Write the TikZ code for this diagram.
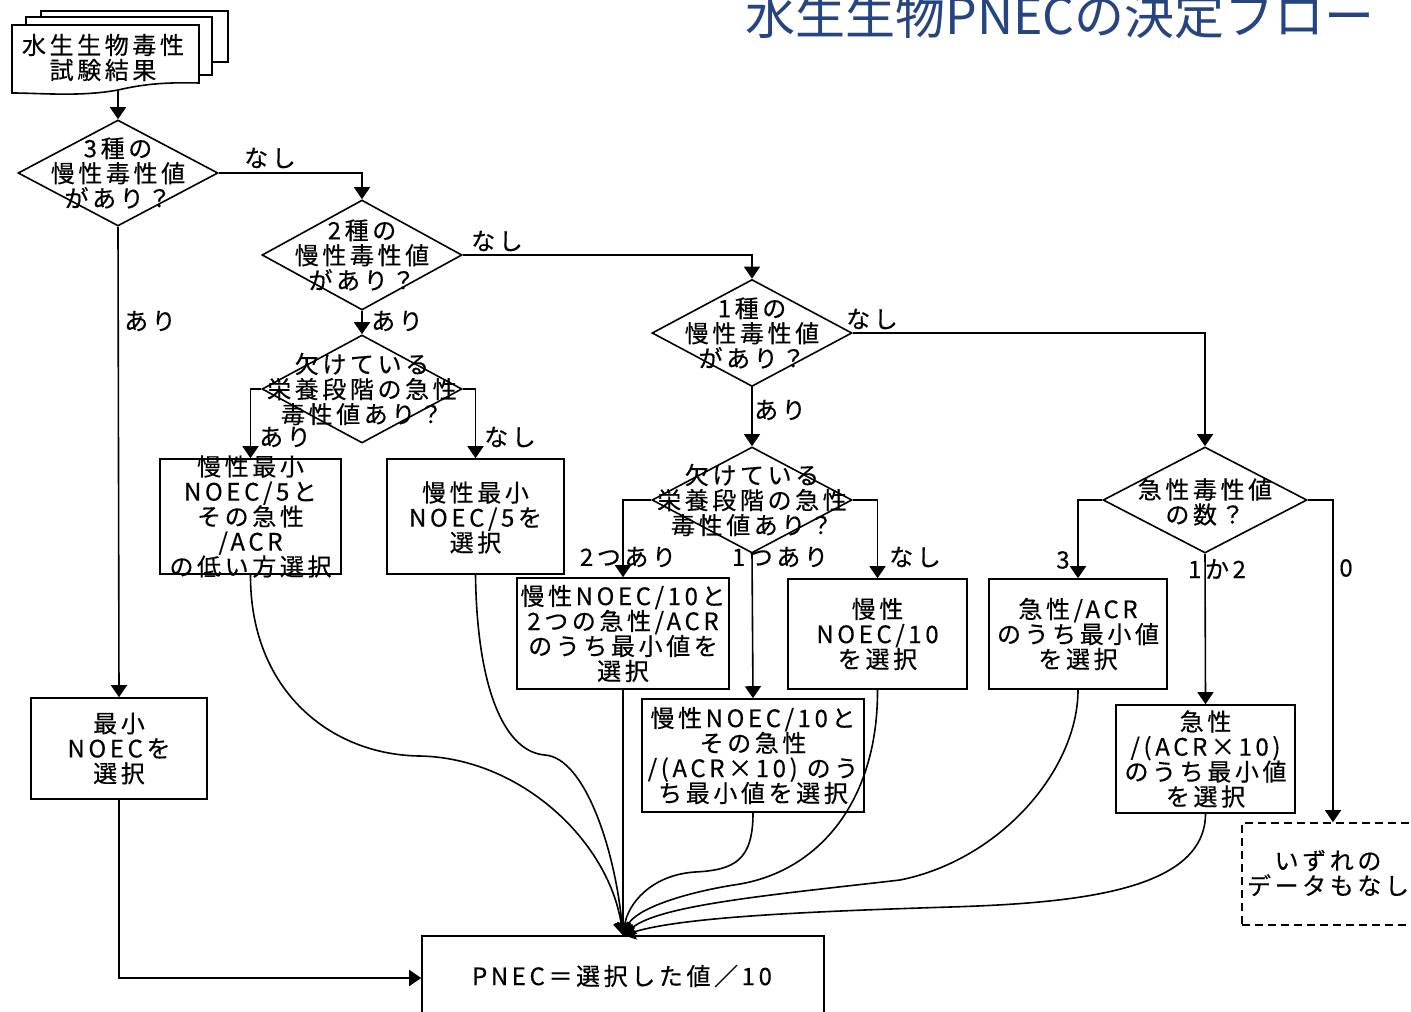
\documentclass[tikz,border=0pt]{standalone}
\usepackage{fontspec}
\setmainfont{Noto Sans CJK JP}[LetterSpace=15,FakeBold=0.4]
\newfontfamily\titlefont{Noto Sans CJK JP}
\usetikzlibrary{shapes.geometric,arrows.meta}
\definecolor{ttl}{RGB}{38,68,128}
\begin{document}
\begin{tikzpicture}[x=0.5pt,y=-0.5pt,line width=0.8pt,
  >={Triangle[length=6pt,width=8pt]},
  box/.style={draw,fill=white,inner sep=0pt,rectangle},
  dia/.style={diamond,draw,fill=white,inner sep=0pt},
  txt/.style={align=center,font=\fontsize{12}{12.5}\selectfont,inner sep=0pt},
  lbl/.style={font=\fontsize{12}{12.5}\selectfont,inner sep=0pt}]
\useasboundingbox[fill=white] (0,0) rectangle (1411,1011);

% title
\node[font=\titlefont\fontsize{25}{25}\selectfont,text=ttl,inner sep=0pt] (title) at (1060,16) {水生生物PNECの決定フロー};

% document stack
\filldraw[fill=white] (41,62) -- (41,11) -- (228,11) -- (228,62) -- cycle;
\filldraw[fill=white] (26,75) -- (26,17) -- (212,17) -- (212,75) -- cycle;
\filldraw[fill=white] (12,93) -- (12,25) -- (199,25) -- (199,83) .. controls (160,82) and (140,85) .. (118,90) .. controls (80,97) and (40,93) .. (12,93) -- cycle;
\node[txt] (doct) at (103,57.5) {水生生物毒性\\試験結果};
\coordinate (docb) at (118,90);

% diamonds
\node[dia,minimum width=100pt,minimum height=53pt] (d1) at (118,173) {};
\node[txt] (d1t) at (d1) {3種の\\慢性毒性値\\があり？};
\node[dia,minimum width=100pt,minimum height=55pt] (d2) at (362,255) {};
\node[txt] (d2t) at (d2) {2種の\\慢性毒性値\\があり？};
\node[dia,minimum width=100pt,minimum height=54pt] (d4) at (362,389) {};
\node[txt] (d4t) at (d4) {欠けている\\栄養段階の急性\\毒性値あり？};
\node[dia,minimum width=100pt,minimum height=53.5pt] (d3) at (752,333) {};
\node[txt] (d3t) at (d3) {1種の\\慢性毒性値\\があり？};
\node[dia,minimum width=100pt,minimum height=53pt] (d5) at (752,500) {};
\node[txt] (d5t) at (d5) {欠けている\\栄養段階の急性\\毒性値あり？};
\node[dia,minimum width=102pt,minimum height=53pt] (d6) at (1205,500) {};
\node[txt] (d6t) at (1205,502) {急性毒性値\\の数？};

% boxes
\node[box,minimum width=88pt,minimum height=50.5pt] (bmin) at (119,748.5) {};
\node[txt] (bmint) at (bmin) {最小\\NOECを\\選択};
\node[box,minimum width=90.5pt,minimum height=57.5pt] (bA) at (250.5,516.5) {};
\node[txt] (bAt) at (bA) {慢性最小\\NOEC/5と\\その急性\\/ACR\\の低い方選択};
\node[box,minimum width=88.5pt,minimum height=57.5pt] (bB) at (475.5,516.5) {};
\node[txt] (bBt) at (475.5,517.5) {慢性最小\\NOEC/5を\\選択};
\node[box,minimum width=106pt,minimum height=55.5pt] (bC) at (623,633.5) {};
\node[txt] (bCt) at (bC) {慢性NOEC/10と\\2つの急性/ACR\\のうち最小値を\\選択};
\node[box,minimum width=89.5pt,minimum height=55pt] (bE) at (877.5,634) {};
\node[txt] (bEt) at (bE) {慢性\\NOEC/10\\を選択};
\node[box,minimum width=111pt,minimum height=56.5pt] (bD) at (753,755.5) {};
\node[txt] (bDt) at (bD) {慢性NOEC/10と\\その急性\\/(ACR×10) のう\\ち最小値を選択};
\node[box,minimum width=89pt,minimum height=55pt] (bF) at (1078,634) {};
\node[txt] (bFt) at (bF) {急性/ACR\\のうち最小値\\を選択};
\node[box,minimum width=89.5pt,minimum height=54pt] (bG) at (1205.5,759) {};
\node[txt] (bGt) at (bG) {急性\\/(ACR×10)\\のうち最小値\\を選択};
\node[box,dash pattern=on 4pt off 2.5pt,minimum width=91pt,minimum height=51pt] (bH) at (1333,874) {};
\node[txt] (bHt) at (1328,873) {いずれの\\データもなし};
\node[box,minimum width=201pt,minimum height=42pt] (pnec) at (623,978) {};
\node[txt] (pnect) at (622,976) {PNEC＝選択した値／10};

% connectors
\draw[->] (docb) -- (d1.north);
\draw[->] (d1.east) -| (d2.north);
\draw[->] (d1.south) -- (bmin.north);
\draw[->] (bmin.south) |- (pnec.west);
\draw[->] (d2.east) -| (d3.north);
\draw[->] (d2.south) -- (d4.north);
\draw[->] (d4.west) -| (bA.north);
\draw[->] (d4.east) -| (bB.north);
\draw[->] (d3.east) -| (d6.north);
\draw[->] (d3.south) -- (d5.north);
\draw[->] (d5.west) -| (bC.north);
\draw[->] (d5.south) -- (bD.north);
\draw[->] (d5.east) -| (bE.north);
\draw[->] (d6.west) -| (bF.north);
\draw[->] (d6.south) -- (bG.north);
\draw[->] (d6.east) -| (bH.north);

% merging curves
\draw[->] (bA.south) .. controls (250,690) and (330,755) .. (420,756) .. controls (520,758) and (608,840) .. (pnec.north);
\draw[->] (bB.south) .. controls (477,690) and (505,752) .. (545,755) .. controls (585,758) and (615,850) .. (pnec.north);
\draw[->] (bC.south) -- (pnec.north);
\draw[->] (bD.south) .. controls (753,860) and (735,870) .. (695,872) .. controls (650,875) and (628,905) .. (pnec.north);
\draw[->] (bE.south) .. controls (878,800) and (820,870) .. (740,884) .. controls (680,893) and (635,910) .. (pnec.north);
\draw[->] (bF.south) .. controls (1078,770) and (1000,860) .. (900,880) .. controls (770,895) and (660,905) .. (pnec.north);
\draw[->] (bG.south) .. controls (1205,890) and (1080,903) .. (950,907) .. controls (790,912) and (680,918) .. (pnec.north);

% labels
\node[lbl] (l1) at (270,158) {なし};
\node[lbl] (l2) at (150,321) {あり};
\node[lbl] (l3) at (497,241) {なし};
\node[lbl] (l4) at (397,321) {あり};
\node[lbl] (l5) at (285,437) {あり};
\node[lbl] (l6) at (510,437) {なし};
\node[lbl] (l7) at (872,319) {なし};
\node[lbl] (l8) at (780,410) {あり};
\node[lbl] (l9) at (628,557) {2つあり};
\node[lbl] (l10) at (780,557) {1つあり};
\node[lbl] (l11) at (915,557) {なし};
\node[lbl] (l12) at (1063,560) {3};
\node[lbl] (l13) at (1217,569) {1か2};
\node[lbl] (l14) at (1346,568) {0};
\end{tikzpicture}
\end{document}
